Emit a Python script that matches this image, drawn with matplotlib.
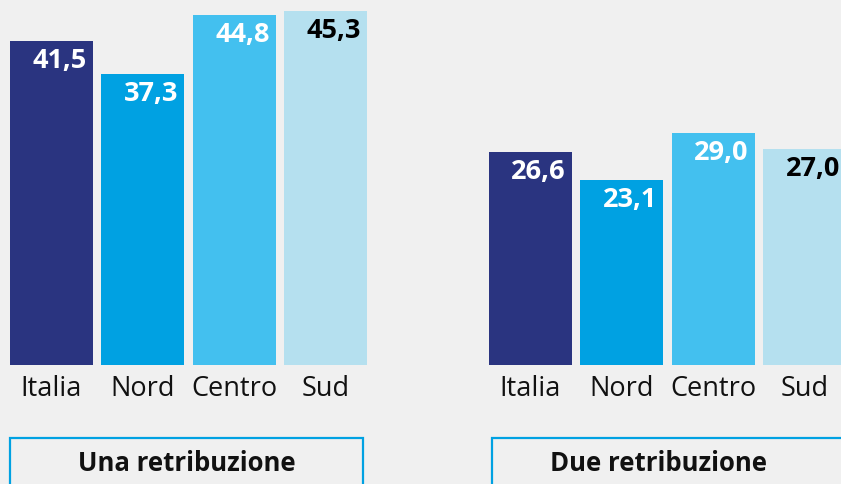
import matplotlib
matplotlib.use("Agg")
import matplotlib.pyplot as plt
from matplotlib.patches import Rectangle

plt.rcParams["font.family"] = ["Open Sans", "DejaVu Sans"]

regions = ["Italia", "Nord", "Centro", "Sud"]
una = [41.5, 37.3, 44.8, 45.3]
due = [26.6, 23.1, 29.0, 27.0]
titles = ["Una retribuzione", "Due retribuzione"]
colors = ["#2a3480", "#00a1e2", "#43c0ef", "#b5e0ef"]
txtcol = ["white", "white", "white", "black"]
BG = "#f0f0f0"

W, H = 841, 484
fig = plt.figure(figsize=(W / 100, H / 100), dpi=100, facecolor=BG)

# pixel layout: bars 83 px wide, pitch ~91.3 px, baseline at y=365
pitch = 91.3
bw = 83 / pitch
groups = [(10, una, 7.81), (489, due, 8.0)]
for left_px, vals, pxu in groups:
    ax = fig.add_axes([left_px / W, (H - 365) / H, 4 * pitch / W, 365 / H])
    ax.set_facecolor(BG)
    x = range(len(vals))
    ax.bar(x, vals, width=bw, color=colors)
    ax.set_xlim(-bw / 2, 3 + bw / 2 + (pitch - 83) / pitch)
    ax.set_ylim(0, 365 / pxu)
    for i, v in enumerate(vals):
        ax.annotate(f"{v:.1f}".replace(".", ","), xy=(i + bw / 2, v),
                    xytext=(-4.3, -19.5), textcoords="offset points",
                    ha="right", va="baseline", fontsize=19.5,
                    fontweight="bold", color=txtcol[i])
    ax.set_xticks(list(x))
    ax.set_xticklabels(regions, fontsize=19.5, color="#111111")
    ax.tick_params(axis="x", length=0, pad=7.5)
    ax.set_yticks([])
    for sp in ax.spines.values():
        sp.set_visible(False)

# title boxes at the bottom
for (x0, x1, tx), t in zip([(10, 363, 186.5), (492, 845, 659)], titles):
    fig.patches.append(Rectangle((x0 / W, -0.05), (x1 - x0) / W,
                                 (H - 438) / H + 0.05,
                                 transform=fig.transFigure, fill=False,
                                 edgecolor="#00a1e2", lw=1.6))
    fig.text(tx / W, (H - 471) / H, t, ha="center", va="baseline",
             fontsize=18.5, fontweight="bold", color="#111111")

fig.savefig("out.png", dpi=100, facecolor=BG)
